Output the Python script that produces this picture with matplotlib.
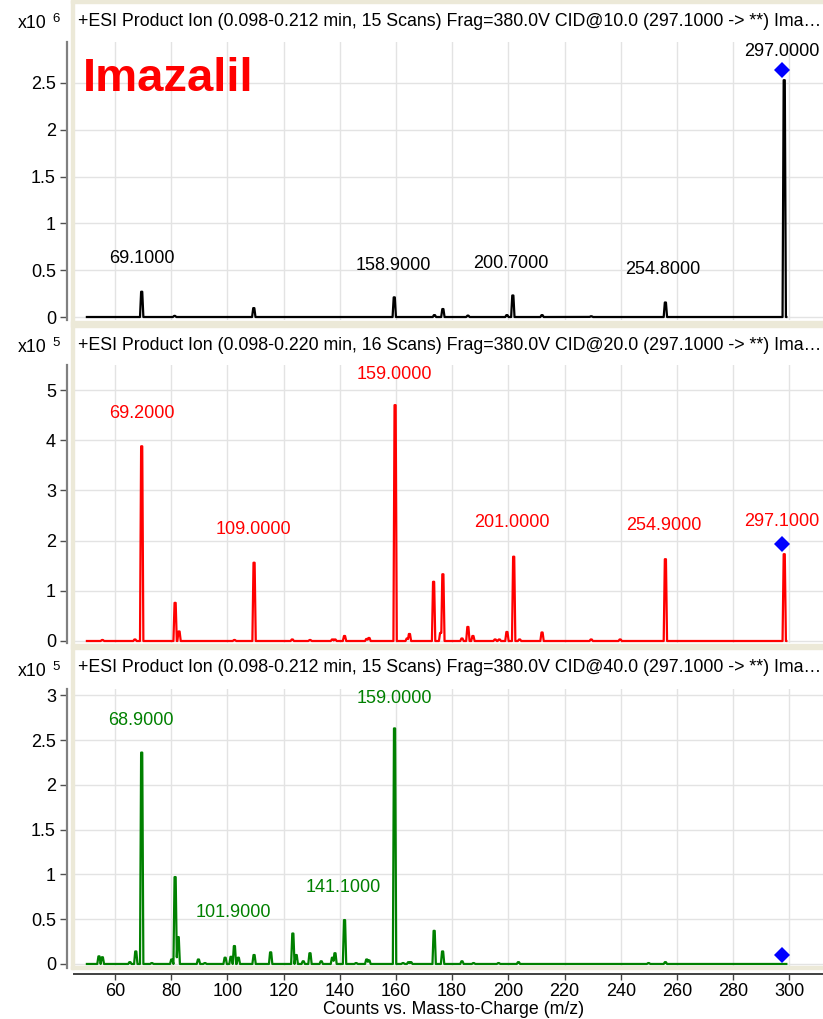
import numpy as np
import matplotlib
matplotlib.use("Agg")
import matplotlib.pyplot as plt
from matplotlib.patches import Rectangle

plt.rcParams['font.family'] = ['Liberation Sans', 'DejaVu Sans']

# spectrum 1: CID 10 (x10^6 counts)
mz1 = [69.5, 81.2, 109.4, 159.4, 173.7, 176.7, 185.6, 199.5, 201.6, 212.0, 229.5, 255.9, 298.2]
int1 = [0.27, 0.012, 0.095, 0.21, 0.02, 0.085, 0.015, 0.02, 0.23, 0.02, 0.008, 0.155, 2.53]
lab1 = [69.1, 158.9, 200.7, 254.8, 297.0]

# spectrum 2: CID 20 (x10^5 counts)
mz2 = [55.5, 67.1, 69.5, 81.4, 82.8, 102.5, 109.5, 123.1, 129.4, 137.4, 138.3, 141.7,
       149.6, 150.4, 159.7, 164.0, 164.8, 173.4, 175.9, 176.7, 183.5, 185.6, 187.4,
       195.3, 196.8, 199.5, 201.9, 204.0, 212.0, 229.5, 239.8, 255.9, 298.2]
int2 = [0.02, 0.03, 3.88, 0.76, 0.19, 0.02, 1.56, 0.03, 0.02, 0.03, 0.03, 0.1,
        0.04, 0.06, 4.7, 0.05, 0.14, 1.18, 0.16, 1.33, 0.05, 0.28, 0.1,
        0.03, 0.03, 0.18, 1.68, 0.03, 0.17, 0.03, 0.03, 1.63, 1.73]
lab2 = [69.2, 109.0, 159.0, 201.0, 254.9, 297.1]

# spectrum 3: CID 40 (x10^5 counts)
mz3 = [54.3, 55.5, 65.3, 67.4, 69.5, 73.1, 80.2, 81.4, 82.5, 89.7, 92.0, 99.2, 101.3,
       102.5, 103.9, 109.5, 115.4, 123.3, 124.5, 127.0, 129.4, 133.4, 137.4, 138.3,
       141.7, 145.8, 149.6, 150.4, 159.5, 162.5, 164.5, 165.3, 173.6, 176.6, 183.5,
       187.6, 196.5, 203.6, 249.9, 255.9]
int3 = [0.085, 0.075, 0.02, 0.14, 2.36, 0.01, 0.05, 0.97, 0.3, 0.05, 0.01, 0.07, 0.08,
        0.2, 0.07, 0.1, 0.13, 0.34, 0.1, 0.03, 0.12, 0.03, 0.07, 0.12,
        0.49, 0.01, 0.05, 0.04, 2.63, 0.01, 0.02, 0.02, 0.37, 0.14, 0.03,
        0.01, 0.01, 0.02, 0.01, 0.02]
lab3 = [68.9, 101.9, 141.1, 159.0]

precursor = 297.1
diamond_y = [2.64, 1.93, 0.1]

cid = ["10.0", "20.0", "40.0"]
times = ["0.098-0.212", "0.098-0.220", "0.098-0.212"]
scans = [15, 16, 15]
expo = ["6", "5", "5"]

W, H = 823, 1019
def fx(p):
    return p / W
def fy(p):
    return 1 - p / H

fig = plt.figure(figsize=(8.23, 10.19), dpi=100)
beige = '#ECE9D8'

# layout of each panel in pixels
tops = [42, 365, 689]
bots = [320, 643, 968]
ylims = [(-0.032, 2.938), (-0.04, 5.5), (-0.045, 3.07)]
yticks = [np.arange(0, 2.51, 0.5), np.arange(0, 5.1, 1), np.arange(0, 3.01, 0.5)]
title_y = [21, 345, 668]
x10_y = [28, 352, 676]
colors = ['black', '#FF0000', '#008000']
lab_y = [[0.63, 0.545, 0.57, 0.51, 2.84],
         [4.54, 2.23, 5.31, 2.36, 2.30, 2.38],
         [2.72, 0.58, 0.855, 2.96]]

spectra = [(mz1, int1, lab1), (mz2, int2, lab2), (mz3, int3, lab3)]
shape_dx = np.array([-0.6, -0.2, 0.2, 0.6])
shape_f = np.array([0, 1, 1, 0])

for i in range(3):
    mz, inten, labs = spectra[i]
    c = colors[i]
    ax = fig.add_axes([fx(74), fy(bots[i]), fx(823) - fx(74), (bots[i] - tops[i]) / H])

    x = np.arange(50, 299.0, 0.05)
    y = np.zeros_like(x)
    for m, h in zip(mz, inten):
        y = np.maximum(y, np.interp(x, m + shape_dx, h * shape_f, left=0, right=0))
    ax.plot(x, y, color=c, lw=1.6)

    for v, ly in zip(labs, lab_y[i]):
        ax.text(v + 0.3, ly, f"{v:.4f}", color=c, ha='center', va='center', fontsize=13)
    ax.plot(precursor + 0.3, diamond_y[i], marker='D', color='#0000FF', ms=8.5, mew=0)

    ax.set_xlim(45.41, 312.0)
    ax.set_ylim(*ylims[i])
    ax.set_xticks(range(60, 301, 20))
    ax.set_yticks(yticks[i])
    ax.set_yticklabels([f"{t:g}" for t in yticks[i]])
    ax.grid(True, color='#E3E3E3', lw=1)
    ax.set_axisbelow(True)
    ax.spines['top'].set_visible(False)
    ax.spines['right'].set_visible(False)
    ax.spines['left'].set_position(('outward', 5))
    ax.spines['left'].set_color('#808080')
    ax.spines['left'].set_linewidth(1.6)
    ax.tick_params(axis='y', length=5, width=1, color='#505050', pad=3, labelsize=13)
    if i < 2:
        ax.spines['bottom'].set_visible(False)
        ax.tick_params(axis='x', length=0, labelbottom=False)
    else:
        ax.spines['bottom'].set_position(('outward', 4))
        ax.spines['bottom'].set_color('#404040')
        ax.spines['bottom'].set_linewidth(1.4)
        ax.tick_params(axis='x', length=4, width=1, color='#404040', pad=3, labelsize=13)

    title = (f"+ESI Product Ion ({times[i]} min, {scans[i]} Scans) Frag=380.0V "
             f"CID@{cid[i]} (297.1000 -> **) Ima\u2026")
    fig.text(fx(78), fy(title_y[i]), title, ha='left', va='center', fontsize=12.75)
    fig.text(fx(18), fy(x10_y[i]), "x10", ha='left', va='baseline', fontsize=12.75)
    fig.text(fx(52), fy(x10_y[i] - 6), expo[i], ha='left', va='baseline', fontsize=9.5)

# beige panel frames
def band(x0, y0, x1, y1):
    fig.patches.append(Rectangle((fx(x0), fy(y1)), fx(x1) - fx(x0), (y1 - y0) / H,
                                 transform=fig.transFigure, color=beige, zorder=2))

band(71, 0, 823, 3)
band(71, 0, 74, 969)
band(71, 321, 823, 327)
band(71, 644, 823, 649)
band(71, 966, 823, 969)

fig.text(fx(83), fy(91), "Imazalil", color='#FF0000', fontsize=34, fontweight='bold',
         ha='left', va='baseline')
fig.text(fx(454), fy(1010), "Counts vs. Mass-to-Charge (m/z)", ha='center', va='center',
         fontsize=12.75)

fig.savefig("out.png", dpi=100)
